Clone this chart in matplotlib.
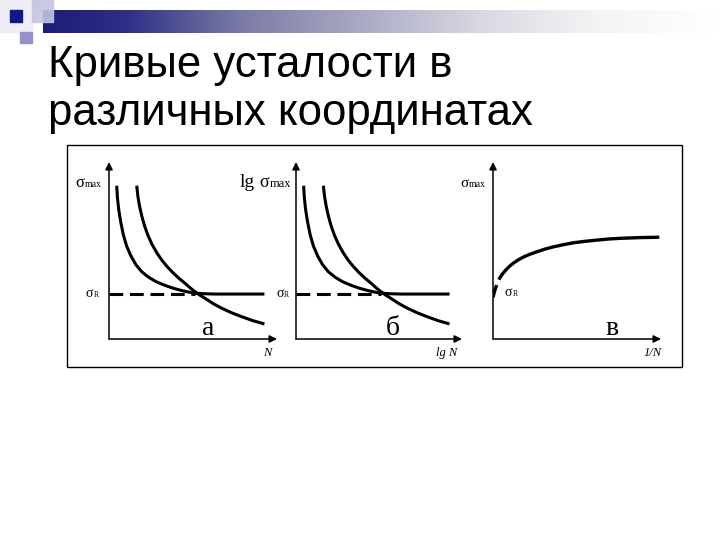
import numpy as np
import matplotlib
matplotlib.use("Agg")
import matplotlib.pyplot as plt
from matplotlib.patches import Rectangle
from matplotlib.colors import LinearSegmentedColormap

# Заголовок слайда
title_lines = ["Кривые усталости в", "различных координатах"]

# кривые а и б (одинаковая форма), единицы: оси 0..10
short_x = [0.46, 0.50, 0.58, 0.70, 0.85, 1.05, 1.30, 1.60, 1.95, 2.34, 2.80,
           3.33, 3.85, 4.32, 4.75, 5.12, 5.60, 6.31, 9.25]
short_y = [8.66, 8.00, 7.30, 6.60, 5.90, 5.25, 4.70, 4.20, 3.80, 3.50, 3.24,
           3.03, 2.86, 2.74, 2.65, 2.59, 2.56, 2.54, 2.54]
long_x = [1.65, 1.72, 1.82, 1.95, 2.12, 2.32, 2.56, 2.84, 3.14, 3.45, 3.78,
          4.14, 4.52, 4.82, 5.12, 5.42, 5.71, 6.20, 6.71, 7.30, 7.90, 8.55, 9.25]
long_y = [8.66, 8.05, 7.50, 6.95, 6.38, 5.85, 5.35, 4.88, 4.46, 4.10, 3.77,
          3.45, 3.15, 2.90, 2.67, 2.47, 2.30, 2.00, 1.74, 1.48, 1.26, 1.04, 0.85]
sigma_r = 2.54
cross_x = 5.12

# кривая в: sigma_max от 1/N
inv_x = [0.35, 0.45, 0.60, 0.82, 1.02, 1.22, 1.50, 1.81, 2.20, 2.62, 3.10,
         3.61, 4.20, 4.81, 5.50, 6.21, 6.90, 7.60, 8.20, 8.80, 9.90]
inv_y = [3.35, 3.52, 3.72, 3.96, 4.14, 4.29, 4.47, 4.63, 4.79, 4.93, 5.08,
         5.21, 5.33, 5.44, 5.52, 5.59, 5.65, 5.69, 5.71, 5.73, 5.75]
inv_start_x = [0.0, 0.1, 0.22]
inv_start_y = [2.35, 2.72, 3.05]

panel_letters = ["а", "б", "в"]
x_names = ["N", "lg N", "1/N"]

W, H = 720, 540
fig = plt.figure(figsize=(7.2, 5.4), dpi=100)
fig.patch.set_facecolor("white")

# фон-оверлей в пикселях
bg = fig.add_axes([0, 0, 1, 1])
bg.set_xlim(0, W)
bg.set_ylim(H, 0)
bg.axis("off")

# декоративные квадраты и градиентная полоса
cmap = LinearSegmentedColormap.from_list(
    "bar", [(0.0, "#1c1c7a"), (0.12, "#2e2e86"), (0.29, "#7a7aa6"),
            (0.645, "#d8d8e2"), (0.82, "#f4f4f6"), (1.0, "#ffffff")])
grad = np.linspace(0, 1, 256).reshape(1, -1)
bg.imshow(grad, cmap=cmap, aspect="auto", extent=(43, 720, 33, 10), zorder=1)
bg.add_patch(Rectangle((0, 0), 32, 32, color="#ededf6", zorder=0))
bg.add_patch(Rectangle((32, 0), 21, 22, color="#c4c4e2", alpha=0.9, zorder=2))
bg.add_patch(Rectangle((10, 10), 12, 12, color="#14148c", zorder=3))
bg.add_patch(Rectangle((20, 32), 12, 11, color="#9292c8", zorder=3))

# заголовок
bg.text(48, 77, title_lines[0], fontsize=31.5, family="Liberation Sans",
        va="baseline", ha="left", color="black")
bg.text(48, 125, title_lines[1], fontsize=31.5, family="Liberation Sans",
        va="baseline", ha="left", color="black")

# рамка рисунка
bg.add_patch(Rectangle((67, 145), 615, 222, fill=False, lw=1.0,
                       edgecolor="black", zorder=2))

serif = "Liberation Serif"


def make_panel(left, width):
    ax = fig.add_axes([left / W, (H - 339) / H, width / W, 177 / H])
    ax.set_xlim(0, 10)
    ax.set_ylim(0, 10)
    ax.axis("off")
    ax.patch.set_alpha(0)
    arrow = dict(arrowstyle="-|>", lw=1.1, color="black", mutation_scale=11,
                 shrinkA=0, shrinkB=0)
    ax.annotate("", xy=(10, 0), xytext=(0, 0), arrowprops=arrow,
                annotation_clip=False)
    ax.annotate("", xy=(0, 10), xytext=(0, 0), arrowprops=arrow,
                annotation_clip=False)
    return ax


def sig_label(ax, x, y, sub, size=12, subsize=6.5, prefix=None):
    off = 0
    if prefix:
        ax.text(x, y, prefix, fontsize=size + 1, family=serif, va="baseline",
                ha="left", clip_on=False)
        off = 0.98 * (size + 1)
    ax.annotate("σ", xy=(x, y), xytext=(off, 0), textcoords="offset points",
                fontsize=size, family=serif, va="baseline", ha="left",
                annotation_clip=False)
    ax.annotate(sub, xy=(x, y), xytext=(off + 0.57 * size, 0),
                textcoords="offset points", fontsize=subsize, family=serif,
                va="baseline", ha="left", annotation_clip=False)


panels = [(109, 168), (296, 166), (493, 168)]
axes = [make_panel(l, w) for l, w in panels]

for i, ax in enumerate(axes[:2]):
    ax.plot(short_x, short_y, color="black", lw=2.2, solid_capstyle="butt",
            solid_joinstyle="round")
    ax.plot(long_x, long_y, color="black", lw=2.2, solid_capstyle="butt",
            solid_joinstyle="round")
    ax.plot([0, cross_x], [sigma_r, sigma_r], color="black", lw=2.2,
            dashes=(4.5, 2.2))

ax_a, ax_b, ax_c = axes

ax_c.plot(inv_x, inv_y, color="black", lw=2.4, solid_capstyle="butt",
          solid_joinstyle="round")
ax_c.plot(inv_start_x, inv_start_y, color="black", lw=2.4,
          solid_capstyle="butt")

# подписи
sig_label(ax_a, -2.02, 8.59, "max", size=12, subsize=7)
sig_label(ax_a, -1.37, 2.37, "R", size=10, subsize=5.5)
sig_label(ax_b, -3.37, 8.59, "max", size=13, subsize=9, prefix="lg")
sig_label(ax_b, -1.2, 2.37, "R", size=10, subsize=5.5)
sig_label(ax_c, -1.96, 8.59, "max", size=11, subsize=7)
sig_label(ax_c, 0.71, 2.43, "R", size=10, subsize=5.5)

letter_x = [5.89, 5.84, 7.08]
name_x = [9.4, 9.1, 9.52]
for ax, let, lx, name, nx in zip(axes, panel_letters, letter_x, x_names, name_x):
    ax.text(lx, 0.23, let, fontsize=20, family=serif, ha="center",
            va="baseline")
    ax.text(nx, -0.96, name, fontsize=9, family=serif, style="italic",
            ha="center", va="baseline", clip_on=False)

fig.savefig("out.png", dpi=100)
